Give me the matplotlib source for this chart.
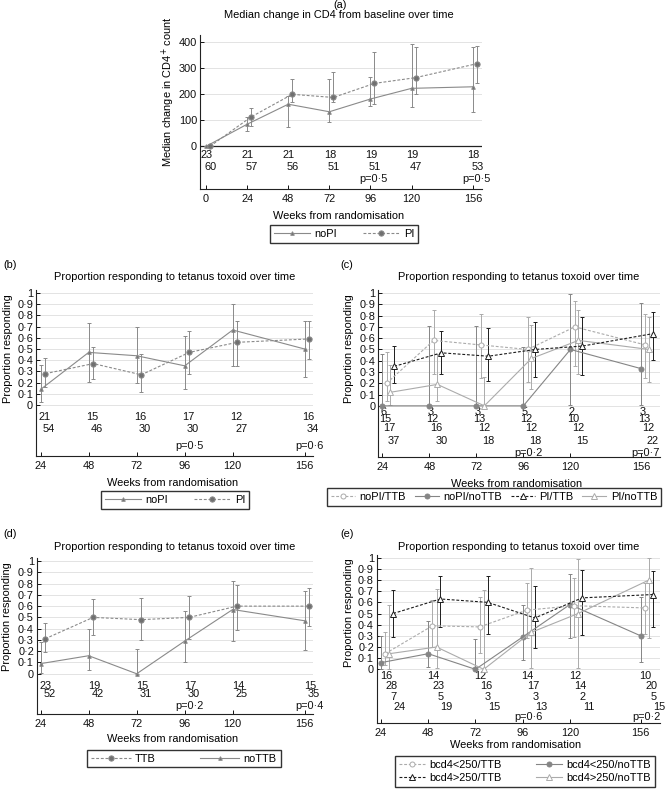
import matplotlib
matplotlib.use('Agg')
import matplotlib.pyplot as plt
from matplotlib.lines import Line2D
from matplotlib.ticker import FuncFormatter

plt.rcParams['font.family'] = ['Liberation Sans', 'DejaVu Sans']
FS = 7.9
plt.rcParams['font.size'] = FS

# ---------------- data ----------------
weeks_a = [0, 24, 48, 72, 96, 120, 156]
a_nopi = [0, 85, 162, 133, 182, 223, 229]
a_nopi_lo = [0, 59, 75, 92, 155, 153, 133]
a_nopi_hi = [0, 114, 192, 260, 265, 394, 383]
a_pi = [0, 113, 200, 188, 242, 264, 318]
a_pi_lo = [0, 78, 172, 169, 161, 200, 245]
a_pi_hi = [0, 146, 258, 287, 364, 383, 386]
a_n_nopi = [23, 21, 21, 18, 19, 19, 18]
a_n_pi = [60, 57, 56, 51, 51, 47, 53]
a_p_weeks = [96, 156]
a_p_text = ['p=0·5', 'p=0·5']

weeks = [24, 48, 72, 96, 120, 156]

b_nopi = [0.14, 0.47, 0.44, 0.35, 0.67, 0.50]
b_nopi_lo = [0.03, 0.21, 0.20, 0.14, 0.35, 0.25]
b_nopi_hi = [0.36, 0.73, 0.70, 0.62, 0.90, 0.75]
b_pi = [0.28, 0.37, 0.27, 0.47, 0.56, 0.59]
b_pi_lo = [0.16, 0.23, 0.12, 0.28, 0.35, 0.41]
b_pi_hi = [0.42, 0.52, 0.46, 0.66, 0.75, 0.75]
b_n_nopi = [21, 15, 16, 17, 12, 16]
b_n_pi = [54, 46, 30, 30, 27, 34]
b_p_weeks = [96, 156]
b_p_text = ['p=0·5', 'p=0·6']

c_nopi_nottb = [0.0, 0.0, 0.0, 0.0, 0.50, 0.33]
c_nopi_nottb_lo = [0.0, 0.0, 0.0, 0.0, 0.01, 0.01]
c_nopi_nottb_hi = [0.46, 0.71, 0.71, 0.52, 0.99, 0.91]
c_nopi_ttb = [0.20, 0.58, 0.54, 0.50, 0.70, 0.54]
c_nopi_ttb_lo = [0.04, 0.28, 0.25, 0.21, 0.35, 0.25]
c_nopi_ttb_hi = [0.48, 0.85, 0.81, 0.79, 0.93, 0.81]
c_pi_nottb = [0.12, 0.19, 0.0, 0.42, 0.58, 0.50]
c_pi_nottb_lo = [0.01, 0.04, 0.0, 0.15, 0.28, 0.21]
c_pi_nottb_hi = [0.36, 0.46, 0.26, 0.72, 0.85, 0.79]
c_pi_ttb = [0.35, 0.47, 0.44, 0.50, 0.53, 0.64]
c_pi_ttb_lo = [0.20, 0.28, 0.22, 0.26, 0.27, 0.41]
c_pi_ttb_hi = [0.53, 0.66, 0.69, 0.74, 0.79, 0.83]
c_n_rows = [[6, 3, 3, 5, 2, 3],
            [15, 12, 13, 12, 10, 13],
            [17, 16, 12, 12, 12, 12],
            [37, 30, 18, 18, 15, 22]]
c_p_weeks = [96, 156]
c_p_text = ['p=0·2', 'p=0·7']

d_ttb = [0.31, 0.50, 0.48, 0.50, 0.60, 0.60]
d_ttb_lo = [0.19, 0.34, 0.30, 0.31, 0.39, 0.42]
d_ttb_hi = [0.45, 0.66, 0.67, 0.69, 0.79, 0.76]
d_nottb = [0.09, 0.16, 0.0, 0.29, 0.57, 0.47]
d_nottb_lo = [0.01, 0.03, 0.0, 0.10, 0.29, 0.21]
d_nottb_hi = [0.28, 0.40, 0.22, 0.56, 0.82, 0.73]
d_n_nottb = [23, 19, 15, 17, 14, 15]
d_n_ttb = [52, 42, 31, 30, 25, 35]
d_p_weeks = [96, 156]
d_p_text = ['p=0·2', 'p=0·4']

e_lo_nottb = [0.06, 0.14, 0.0, 0.29, 0.58, 0.30]
e_lo_nottb_lo = [0.0, 0.02, 0.0, 0.08, 0.28, 0.07]
e_lo_nottb_hi = [0.30, 0.43, 0.27, 0.58, 0.85, 0.65]
e_lo_ttb = [0.14, 0.39, 0.38, 0.53, 0.57, 0.55]
e_lo_ttb_lo = [0.04, 0.20, 0.15, 0.28, 0.29, 0.32]
e_lo_ttb_hi = [0.33, 0.62, 0.65, 0.77, 0.82, 0.77]
e_hi_nottb = [0.14, 0.20, 0.0, 0.33, 0.50, 0.80]
e_hi_nottb_lo = [0.0, 0.01, 0.0, 0.01, 0.01, 0.28]
e_hi_nottb_hi = [0.58, 0.72, 0.71, 0.91, 0.99, 1.0]
e_hi_ttb = [0.50, 0.63, 0.60, 0.46, 0.64, 0.67]
e_hi_ttb_lo = [0.29, 0.38, 0.32, 0.19, 0.31, 0.38]
e_hi_ttb_hi = [0.71, 0.84, 0.84, 0.75, 0.89, 0.88]
e_n_rows = [[16, 14, 12, 14, 12, 10],
            [28, 23, 16, 17, 14, 20],
            [7, 5, 3, 3, 2, 5],
            [24, 19, 15, 13, 11, 15]]
e_p_weeks = [96, 156]
e_p_text = ['p=0·6', 'p=0·2']

# ---------------- helpers ----------------
W, H = 666, 791
fig = plt.figure(figsize=(W / 100, H / 100), dpi=100)

GREY = '#8a8a8a'
GREY_M = '#707070'
LIGHT = '#ababab'
MID = '#858585'
BLACK = '#1c1c1c'
DASH = (0, (2.6, 1.6))


def add_ax(x0, x1, ytop, ybot):
    return fig.add_axes([x0 / W, 1 - ybot / H, (x1 - x0) / W, (ybot - ytop) / H])


def ftext(x, y, s, **kw):
    fig.text(x / W, 1 - y / H, s, **kw)


def series(ax, x, y, lo, hi, color, ls, marker, mfc, ms, offset, mec=None):
    xs = [v + offset for v in x]
    err = [[a - b for a, b in zip(y, lo)], [b - a for a, b in zip(y, hi)]]
    ax.errorbar(xs, y, yerr=err, color=color, ls=ls, lw=0.8, marker=marker,
                ms=ms, mfc=mfc, mec=mec or color, mew=0.7, ecolor=color,
                elinewidth=0.7, capsize=1.7, capthick=0.7, zorder=3)


def style(ax, xlim, ylim, xticks, yticks, yfmt, zero_line=False):
    ax.set_xlim(xlim)
    ax.set_ylim(ylim)
    for s in ['top', 'right']:
        ax.spines[s].set_visible(False)
    for s in ['left', 'bottom']:
        ax.spines[s].set_linewidth(0.8)
        ax.spines[s].set_color('#222222')
    ax.set_xticks(xticks)
    ax.set_yticks(yticks)
    ax.yaxis.set_major_formatter(FuncFormatter(yfmt))
    ax.tick_params(direction='in', length=3, width=0.7, labelsize=FS,
                   colors='#111111')
    ax.tick_params(axis='x', pad=3.5)
    ax.tick_params(axis='y', pad=2)
    for yt in yticks:
        if zero_line and yt == 0:
            ax.axhline(0, color='#222222', lw=0.9, zorder=2)
        else:
            ax.axhline(yt, color='#e3e3e3', lw=0.7, zorder=0)


def prop_fmt(v, pos):
    if abs(v) < 1e-9:
        return '0'
    if abs(v - 1) < 1e-9:
        return '1'
    return f'{v:.1f}'.replace('.', '·')


def int_fmt(v, pos):
    return f'{int(round(v))}'


def counts(ax, x, rows, yvals, offsets):
    for r, yv, off in zip(rows, yvals, offsets):
        for xx, n in zip(x, r):
            ax.text(xx + off, yv, str(n), ha='center', va='center',
                    fontsize=FS, clip_on=False, color='#111111')


def ptexts(ax, pw, pt, yv, off):
    for xx, s in zip(pw, pt):
        ax.text(xx + off, yv, s, ha='center', va='center', fontsize=FS,
                clip_on=False, color='#111111')


def legend(handles, labels, cx, cy, ncol, hl=2.6, cs=1.4):
    fig.legend(handles, labels, loc='center', bbox_to_anchor=(cx / W, 1 - cy / H),
               ncol=ncol, frameon=True, fancybox=False, fontsize=FS,
               handlelength=hl, handletextpad=0.4, columnspacing=cs,
               borderpad=0.35, labelspacing=0.25, edgecolor='#333333',
               framealpha=1)


def h(color, ls, marker, mfc, ms, mec=None):
    return Line2D([], [], color=color, ls=ls, lw=0.8, marker=marker, ms=ms,
                  mfc=mfc, mec=mec or color, mew=0.7)


prop_ticks = [i / 10 for i in range(11)]

# ---------------- panel (a) ----------------
axA = add_ax(200, 482, 35, 189.3)
style(axA, (-3.5, 161.1), (-165, 428), weeks_a, [0, 100, 200, 300, 400],
      int_fmt, zero_line=True)
series(axA, weeks_a, a_nopi, a_nopi_lo, a_nopi_hi, GREY, '-', '^', GREY_M, 2.6, 0)
series(axA, weeks_a, a_pi, a_pi_lo, a_pi_hi, GREY, DASH, 'o', GREY_M, 3.8, 2.3)
counts(axA, weeks_a, [a_n_nopi, a_n_pi], [-33, -78], [0.3, 2.6])
ptexts(axA, a_p_weeks, a_p_text, -127, 2)
ftext(340, 5, '(a)', ha='center', va='center', fontsize=FS)
ftext(339, 15.5, 'Median change in CD4 from baseline over time', ha='center',
      va='center', fontsize=FS)
ftext(168, 92, 'Median change in CD4$^{+}$ count', rotation=90, ha='center',
      va='center', fontsize=FS)
ftext(339, 216, 'Weeks from randomisation', ha='center', va='center', fontsize=FS)
legend([h(GREY, '-', '^', GREY_M, 2.6), h(GREY, DASH, 'o', GREY_M, 3.8)],
       ['noPI', 'PI'], 344, 234, 2, hl=3.3, cs=2.4)

# ---------------- panel (b) ----------------
axB = add_ax(36, 313, 290, 456)
style(axB, (21.65, 160.15), (-0.455, 1.027), weeks, prop_ticks, prop_fmt)
series(axB, weeks, b_nopi, b_nopi_lo, b_nopi_hi, GREY, '-', '^', GREY_M, 2.6, 0)
series(axB, weeks, b_pi, b_pi_lo, b_pi_hi, GREY, DASH, 'o', GREY_M, 3.8, 2.3)
counts(axB, weeks, [b_n_nopi, b_n_pi], [-0.107, -0.214], [2.0, 4.2])
ptexts(axB, b_p_weeks, b_p_text, -0.366, 2.3)
ftext(3, 265, '(b)', ha='left', va='center', fontsize=FS)
ftext(174.5, 277.5, 'Proportion responding to tetanus toxoid over time',
      ha='center', va='center', fontsize=FS)
ftext(8, 349, 'Proportion responding', rotation=90, ha='center', va='center',
      fontsize=FS)
ftext(173, 483, 'Weeks from randomisation', ha='center', va='center', fontsize=FS)
legend([h(GREY, '-', '^', GREY_M, 2.6), h(GREY, DASH, 'o', GREY_M, 3.8)],
       ['noPI', 'PI'], 175, 500, 2, hl=3.3, cs=2.4)

# ---------------- panel (c) ----------------
axC = add_ax(378.3, 660, 290, 456.7)
style(axC, (21.96, 165.7), (-0.451, 1.027), weeks, prop_ticks, prop_fmt)
series(axC, weeks, c_nopi_nottb, c_nopi_nottb_lo, c_nopi_nottb_hi, MID, '-', 'o', MID, 3.6, 0)
series(axC, weeks, c_nopi_ttb, c_nopi_ttb_lo, c_nopi_ttb_hi, LIGHT, DASH, 'o', 'white', 3.6, 2.2)
series(axC, weeks, c_pi_nottb, c_pi_nottb_lo, c_pi_nottb_hi, LIGHT, '-', '^', 'white', 3.8, 4.1)
series(axC, weeks, c_pi_ttb, c_pi_ttb_lo, c_pi_ttb_hi, BLACK, DASH, '^', 'white', 3.8, 6.1)
counts(axC, weeks, c_n_rows, [-0.055, -0.12, -0.20, -0.31], [0.75, 1.6, 3.8, 6.1])
ptexts(axC, c_p_weeks, c_p_text, -0.415, 2.5)
ftext(340, 265, '(c)', ha='left', va='center', fontsize=FS)
ftext(519, 277.5, 'Proportion responding to tetanus toxoid over time',
      ha='center', va='center', fontsize=FS)
ftext(349, 349, 'Proportion responding', rotation=90, ha='center', va='center',
      fontsize=FS)
ftext(517, 484, 'Weeks from randomisation', ha='center', va='center', fontsize=FS)
legend([h(LIGHT, DASH, 'o', 'white', 3.6), h(MID, '-', 'o', MID, 3.6),
        h(BLACK, DASH, '^', 'white', 3.8), h(LIGHT, '-', '^', 'white', 3.8)],
       ['noPI/TTB', 'noPI/noTTB', 'PI/TTB', 'PI/noTTB'], 494, 497, 4,
       hl=2.2, cs=0.8)

# ---------------- panel (d) ----------------
axD = add_ax(36.7, 313, 558, 714)
style(axD, (22.0, 160.15), (-0.357, 1.027), weeks, prop_ticks, prop_fmt)
series(axD, weeks, d_nottb, d_nottb_lo, d_nottb_hi, GREY, '-', '^', GREY_M, 2.6, 0)
series(axD, weeks, d_ttb, d_ttb_lo, d_ttb_hi, GREY, DASH, 'o', GREY_M, 3.8, 2.2)
counts(axD, weeks, [d_n_nottb, d_n_ttb], [-0.107, -0.182], [2.6, 4.3])
ptexts(axD, d_p_weeks, d_p_text, -0.286, 2.3)
ftext(3, 534, '(d)', ha='left', va='center', fontsize=FS)
ftext(174.5, 547, 'Proportion responding to tetanus toxoid over time',
      ha='center', va='center', fontsize=FS)
ftext(7, 617, 'Proportion responding', rotation=90, ha='center', va='center',
      fontsize=FS)
ftext(173, 738.5, 'Weeks from randomisation', ha='center', va='center', fontsize=FS)
legend([h(GREY, DASH, 'o', GREY_M, 3.8), h(GREY, '-', '^', GREY_M, 2.6)],
       ['TTB', 'noTTB'], 184, 758.5, 2, hl=3.6, cs=4.0)

# ---------------- panel (e) ----------------
axE = add_ax(376.7, 660, 555, 722.7)
style(axE, (21.8, 165.8), (-0.478, 1.024), weeks, prop_ticks, prop_fmt)
series(axE, weeks, e_lo_nottb, e_lo_nottb_lo, e_lo_nottb_hi, MID, '-', 'o', MID, 3.6, 0)
series(axE, weeks, e_lo_ttb, e_lo_ttb_lo, e_lo_ttb_hi, LIGHT, DASH, 'o', 'white', 3.6, 2.1)
series(axE, weeks, e_hi_nottb, e_hi_nottb_lo, e_hi_nottb_hi, LIGHT, '-', '^', 'white', 3.8, 4.2)
series(axE, weeks, e_hi_ttb, e_hi_ttb_lo, e_hi_ttb_hi, BLACK, DASH, '^', 'white', 3.8, 6.2)
counts(axE, weeks, e_n_rows, [-0.06, -0.15, -0.245, -0.34], [2.5, 5.3, 6.4, 9.4])
ptexts(axE, e_p_weeks, e_p_text, -0.425, 3.0)
ftext(340, 534, '(e)', ha='left', va='center', fontsize=FS)
ftext(519, 547, 'Proportion responding to tetanus toxoid over time',
      ha='center', va='center', fontsize=FS)
ftext(349, 613, 'Proportion responding', rotation=90, ha='center', va='center',
      fontsize=FS)
ftext(516, 745, 'Weeks from randomisation', ha='center', va='center', fontsize=FS)
legend([h(LIGHT, DASH, 'o', 'white', 3.6), h(BLACK, DASH, '^', 'white', 3.8),
        h(MID, '-', 'o', MID, 3.6), h(LIGHT, '-', '^', 'white', 3.8)],
       ['bcd4<250/TTB', 'bcd4>250/TTB', 'bcd4<250/noTTB', 'bcd4>250/noTTB'],
       525, 771.7, 2, hl=2.3, cs=3.2)

fig.savefig('out.png', dpi=100)
